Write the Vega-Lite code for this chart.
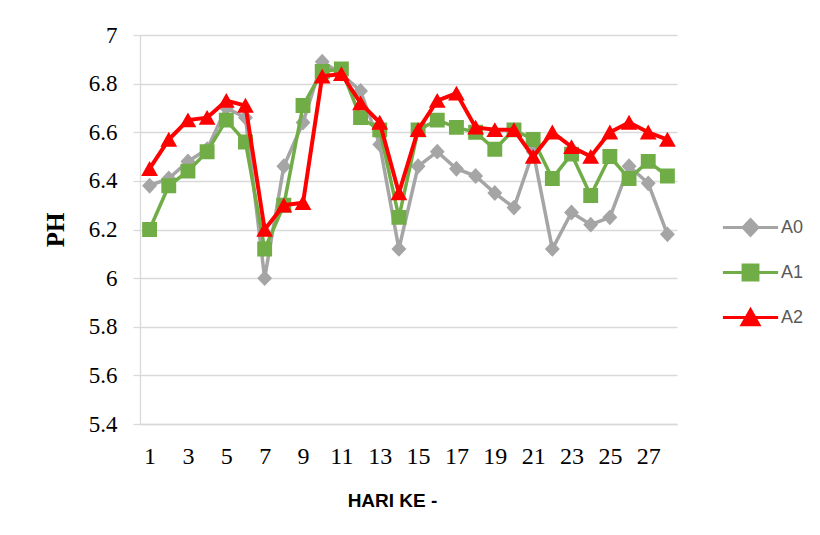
{
  "$schema": "https://vega.github.io/schema/vega-lite/v6.json",
  "width": 537,
  "height": 389,
  "autosize": {"type": "none"},
  "padding": {"left": 140, "top": 35, "right": 143, "bottom": 111},
  "background": "white",
  "config": {
    "view": {"stroke": null},
    "legend": {
      "orient": "none",
      "legendX": 597,
      "legendY": 179,
      "padding": 0,
      "labelFont": "Liberation Sans",
      "labelFontSize": 18,
      "labelColor": "#595959",
      "symbolSize": 576,
      "symbolStrokeWidth": 3,
      "rowPadding": 17,
      "labelOffset": 17
    }
  },
  "data": {
    "values": [
      {"day": 1, "series": "A0", "value": 6.38}, {"day": 1, "series": "A1", "value": 6.20}, {"day": 1, "series": "A2", "value": 6.45},
      {"day": 2, "series": "A0", "value": 6.41}, {"day": 2, "series": "A1", "value": 6.38}, {"day": 2, "series": "A2", "value": 6.57},
      {"day": 3, "series": "A0", "value": 6.48}, {"day": 3, "series": "A1", "value": 6.44}, {"day": 3, "series": "A2", "value": 6.65},
      {"day": 4, "series": "A0", "value": 6.53}, {"day": 4, "series": "A1", "value": 6.52}, {"day": 4, "series": "A2", "value": 6.66},
      {"day": 5, "series": "A0", "value": 6.70}, {"day": 5, "series": "A1", "value": 6.65}, {"day": 5, "series": "A2", "value": 6.73},
      {"day": 6, "series": "A0", "value": 6.66}, {"day": 6, "series": "A1", "value": 6.56}, {"day": 6, "series": "A2", "value": 6.71},
      {"day": 7, "series": "A0", "value": 6.00}, {"day": 7, "series": "A1", "value": 6.12}, {"day": 7, "series": "A2", "value": 6.20},
      {"day": 8, "series": "A0", "value": 6.46}, {"day": 8, "series": "A1", "value": 6.30}, {"day": 8, "series": "A2", "value": 6.30},
      {"day": 9, "series": "A0", "value": 6.64}, {"day": 9, "series": "A1", "value": 6.71}, {"day": 9, "series": "A2", "value": 6.31},
      {"day": 10, "series": "A0", "value": 6.89}, {"day": 10, "series": "A1", "value": 6.85}, {"day": 10, "series": "A2", "value": 6.83},
      {"day": 11, "series": "A0", "value": 6.84}, {"day": 11, "series": "A1", "value": 6.86}, {"day": 11, "series": "A2", "value": 6.84},
      {"day": 12, "series": "A0", "value": 6.77}, {"day": 12, "series": "A1", "value": 6.66}, {"day": 12, "series": "A2", "value": 6.72},
      {"day": 13, "series": "A0", "value": 6.55}, {"day": 13, "series": "A1", "value": 6.61}, {"day": 13, "series": "A2", "value": 6.64},
      {"day": 14, "series": "A0", "value": 6.12}, {"day": 14, "series": "A1", "value": 6.25}, {"day": 14, "series": "A2", "value": 6.35},
      {"day": 15, "series": "A0", "value": 6.46}, {"day": 15, "series": "A1", "value": 6.61}, {"day": 15, "series": "A2", "value": 6.61},
      {"day": 16, "series": "A0", "value": 6.52}, {"day": 16, "series": "A1", "value": 6.65}, {"day": 16, "series": "A2", "value": 6.73},
      {"day": 17, "series": "A0", "value": 6.45}, {"day": 17, "series": "A1", "value": 6.62}, {"day": 17, "series": "A2", "value": 6.76},
      {"day": 18, "series": "A0", "value": 6.42}, {"day": 18, "series": "A1", "value": 6.60}, {"day": 18, "series": "A2", "value": 6.62},
      {"day": 19, "series": "A0", "value": 6.35}, {"day": 19, "series": "A1", "value": 6.53}, {"day": 19, "series": "A2", "value": 6.61},
      {"day": 20, "series": "A0", "value": 6.29}, {"day": 20, "series": "A1", "value": 6.61}, {"day": 20, "series": "A2", "value": 6.61},
      {"day": 21, "series": "A0", "value": 6.52}, {"day": 21, "series": "A1", "value": 6.57}, {"day": 21, "series": "A2", "value": 6.50},
      {"day": 22, "series": "A0", "value": 6.12}, {"day": 22, "series": "A1", "value": 6.41}, {"day": 22, "series": "A2", "value": 6.60},
      {"day": 23, "series": "A0", "value": 6.27}, {"day": 23, "series": "A1", "value": 6.51}, {"day": 23, "series": "A2", "value": 6.54},
      {"day": 24, "series": "A0", "value": 6.22}, {"day": 24, "series": "A1", "value": 6.34}, {"day": 24, "series": "A2", "value": 6.50},
      {"day": 25, "series": "A0", "value": 6.25}, {"day": 25, "series": "A1", "value": 6.50}, {"day": 25, "series": "A2", "value": 6.60},
      {"day": 26, "series": "A0", "value": 6.46}, {"day": 26, "series": "A1", "value": 6.41}, {"day": 26, "series": "A2", "value": 6.64},
      {"day": 27, "series": "A0", "value": 6.39}, {"day": 27, "series": "A1", "value": 6.48}, {"day": 27, "series": "A2", "value": 6.60},
      {"day": 28, "series": "A0", "value": 6.18}, {"day": 28, "series": "A1", "value": 6.42}, {"day": 28, "series": "A2", "value": 6.57}
    ]
  },
  "encoding": {
    "x": {
      "field": "day",
      "type": "ordinal",
      "scale": {"type": "point", "padding": 0.5},
      "axis": {
        "values": [1, 3, 5, 7, 9, 11, 13, 15, 17, 19, 21, 23, 25, 27],
        "labelAngle": 0,
        "labelOverlap": false,
        "grid": false,
        "ticks": false,
        "domainColor": "#D9D9D9",
        "domainWidth": 1.3,
        "labelFont": "Liberation Serif",
        "labelFontSize": 24,
        "labelColor": "#000000",
        "labelPadding": 20,
        "title": "HARI KE -",
        "titleFont": "Liberation Sans",
        "titleFontSize": 19,
        "titleFontWeight": "bold",
        "titleColor": "#000000",
        "titleX": 252,
        "titleY": 76,
        "titleBaseline": "middle"
      }
    },
    "y": {
      "field": "value",
      "type": "quantitative",
      "scale": {"domain": [5.4, 7], "zero": false, "nice": false},
      "axis": {
        "values": [5.4, 5.6, 5.8, 6, 6.2, 6.4, 6.6, 6.8, 7],
        "format": ".1~f",
        "grid": true,
        "gridColor": "#D9D9D9",
        "gridWidth": 1.3,
        "domainColor": "#D9D9D9",
        "domainWidth": 1.3,
        "tickColor": "#D9D9D9",
        "tickWidth": 1.3,
        "tickSize": 7,
        "labelFont": "Liberation Serif",
        "labelFontSize": 23,
        "labelColor": "#000000",
        "labelPadding": 16,
        "title": "PH",
        "titleFont": "Liberation Serif",
        "titleFontSize": 25,
        "titleFontWeight": "bold",
        "titleColor": "#000000",
        "titleAngle": -90,
        "titleX": -85,
        "titleY": 194.5,
        "titleAlign": "center",
        "titleBaseline": "middle"
      }
    }
  },
  "layer": [
    {
      "transform": [{"filter": "datum.series === 'A0'"}],
      "mark": {"type": "line", "color": "#A5A5A5", "strokeWidth": 3.5},
      "encoding": {}
    },
    {
      "transform": [{"filter": "datum.series === 'A0'"}],
      "mark": {"type": "point", "filled": true, "size": 576, "opacity": 1},
      "encoding": {
        "fill": {"field": "series", "type": "nominal", "scale": {"domain": ["A0", "A1", "A2"], "range": ["#A5A5A5", "#70AD47", "#FF0000"]}, "legend": {"title": null}},
        "stroke": {"field": "series", "type": "nominal", "scale": {"domain": ["A0", "A1", "A2"], "range": ["#A5A5A5", "#70AD47", "#FF0000"]}, "legend": {"title": null}},
        "shape": {"field": "series", "type": "nominal", "scale": {"domain": ["A0", "A1", "A2"], "range": ["M-2.3,0L2.3,0M0,-0.66L0.62,0L0,0.66L-0.62,0Z", "M-2.3,0L2.3,0M-0.62,-0.62L0.62,-0.62L0.62,0.62L-0.62,0.62Z", "M-2.3,0L2.3,0M0,-0.64L0.7,0.6L-0.7,0.6Z"]}, "legend": {"title": null}},
        "strokeWidth": {"value": 0}
      }
    },
    {
      "transform": [{"filter": "datum.series === 'A1'"}],
      "mark": {"type": "line", "color": "#70AD47", "strokeWidth": 3.5},
      "encoding": {}
    },
    {
      "transform": [{"filter": "datum.series === 'A1'"}],
      "mark": {"type": "point", "filled": true, "size": 576, "opacity": 1},
      "encoding": {
        "fill": {"field": "series", "type": "nominal", "scale": {"domain": ["A0", "A1", "A2"], "range": ["#A5A5A5", "#70AD47", "#FF0000"]}, "legend": {"title": null}},
        "stroke": {"field": "series", "type": "nominal", "scale": {"domain": ["A0", "A1", "A2"], "range": ["#A5A5A5", "#70AD47", "#FF0000"]}, "legend": {"title": null}},
        "shape": {"field": "series", "type": "nominal", "scale": {"domain": ["A0", "A1", "A2"], "range": ["M-2.3,0L2.3,0M0,-0.66L0.62,0L0,0.66L-0.62,0Z", "M-2.3,0L2.3,0M-0.62,-0.62L0.62,-0.62L0.62,0.62L-0.62,0.62Z", "M-2.3,0L2.3,0M0,-0.64L0.7,0.6L-0.7,0.6Z"]}, "legend": {"title": null}},
        "strokeWidth": {"value": 0}
      }
    },
    {
      "transform": [{"filter": "datum.series === 'A2'"}],
      "mark": {"type": "line", "color": "#FF0000", "strokeWidth": 4},
      "encoding": {}
    },
    {
      "transform": [{"filter": "datum.series === 'A2'"}],
      "mark": {"type": "point", "filled": true, "size": 576, "opacity": 1},
      "encoding": {
        "fill": {"field": "series", "type": "nominal", "scale": {"domain": ["A0", "A1", "A2"], "range": ["#A5A5A5", "#70AD47", "#FF0000"]}, "legend": {"title": null}},
        "stroke": {"field": "series", "type": "nominal", "scale": {"domain": ["A0", "A1", "A2"], "range": ["#A5A5A5", "#70AD47", "#FF0000"]}, "legend": {"title": null}},
        "shape": {"field": "series", "type": "nominal", "scale": {"domain": ["A0", "A1", "A2"], "range": ["M-2.3,0L2.3,0M0,-0.66L0.62,0L0,0.66L-0.62,0Z", "M-2.3,0L2.3,0M-0.62,-0.62L0.62,-0.62L0.62,0.62L-0.62,0.62Z", "M-2.3,0L2.3,0M0,-0.64L0.7,0.6L-0.7,0.6Z"]}, "legend": {"title": null}},
        "strokeWidth": {"value": 0}
      }
    }
  ]
}
